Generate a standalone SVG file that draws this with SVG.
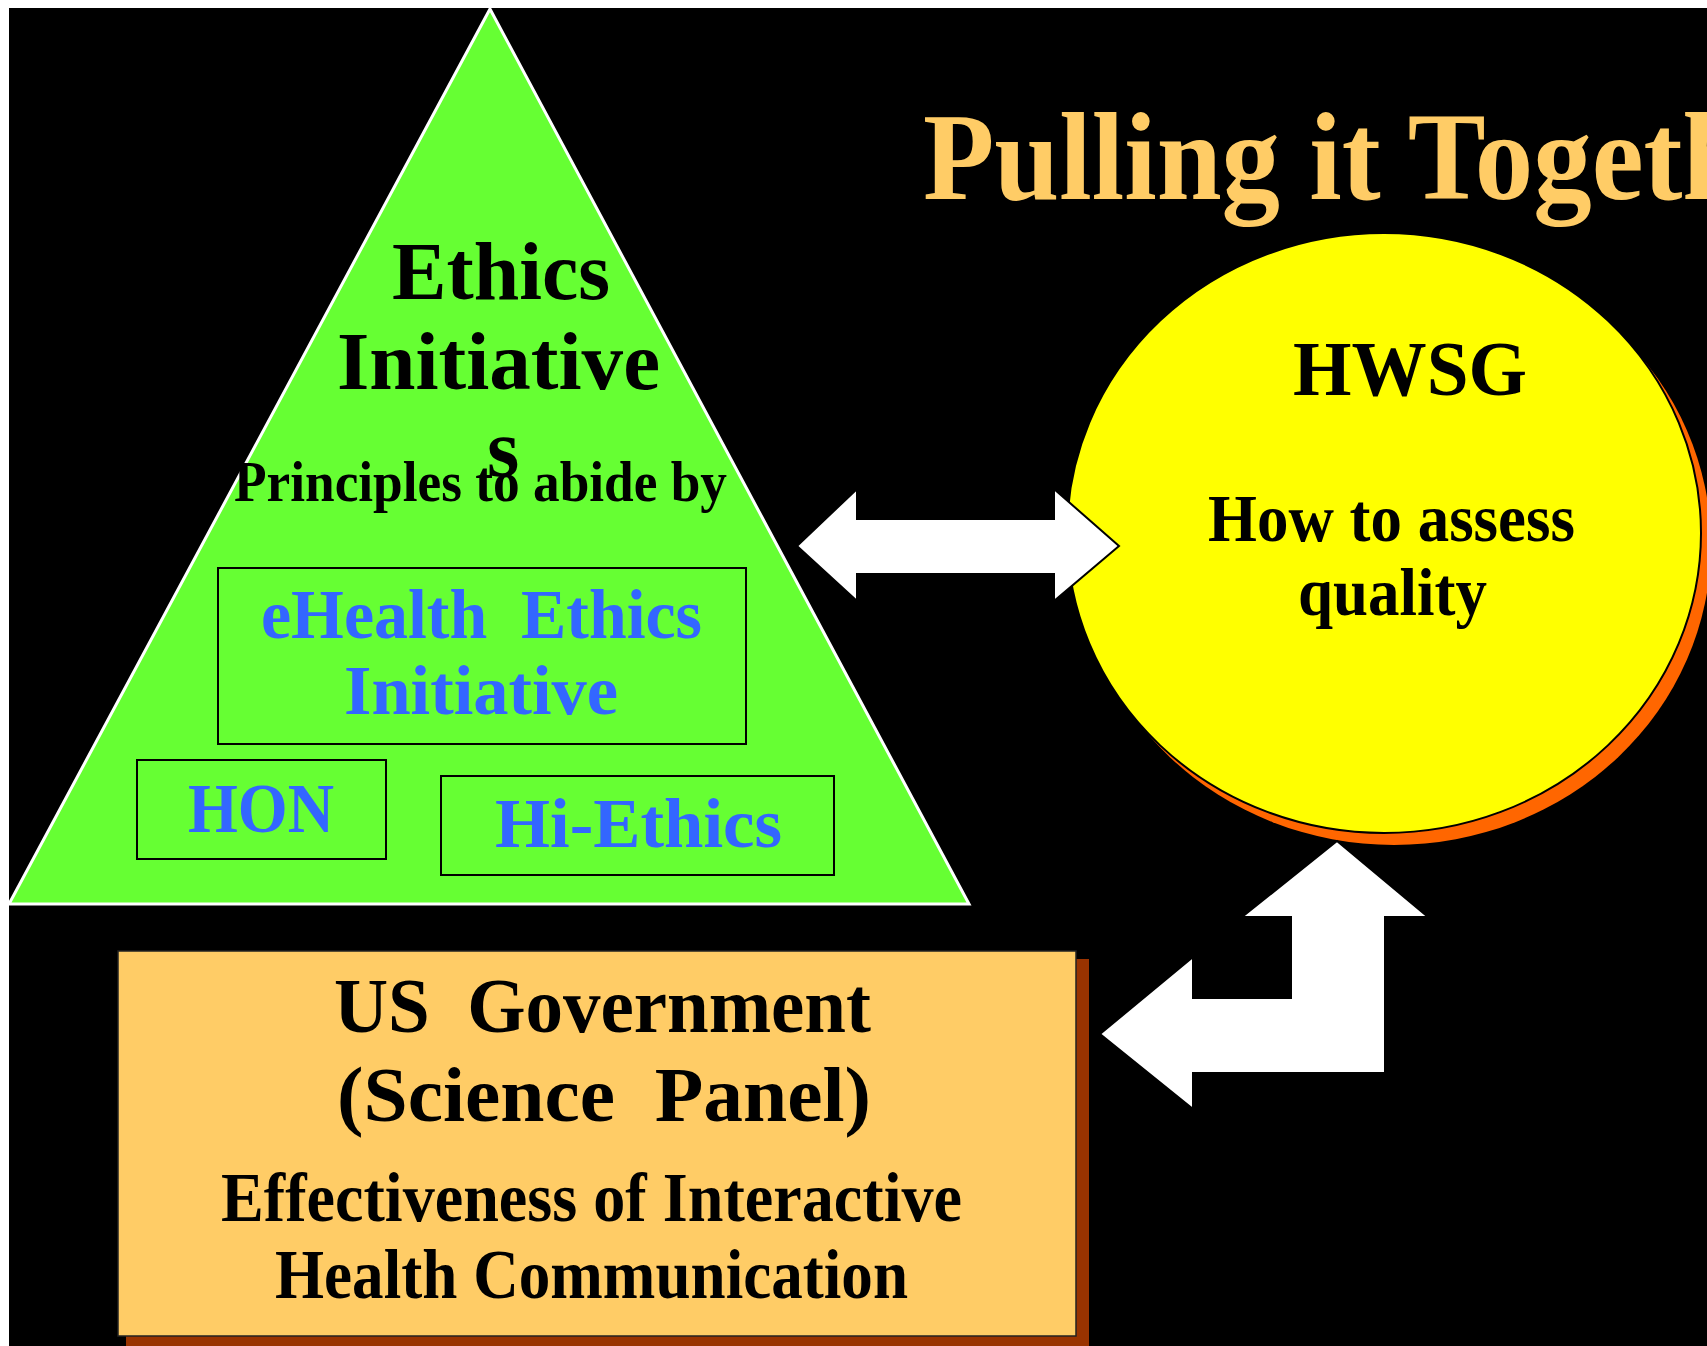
<svg xmlns="http://www.w3.org/2000/svg" width="1707" height="1346" viewBox="0 0 1707 1346">
<style>
  text { font-family: "Liberation Serif", "Times New Roman", serif; font-weight: bold; }
  .blk { fill: #000000; }
  .blue { fill: #3366FF; }
  .title { fill: #FFCC66; }
  .inner { fill: none; stroke: #000000; stroke-width: 2; }
  .arrow { fill: #FFFFFF; stroke: #000000; stroke-width: 2; stroke-linejoin: miter; }
</style>
<rect x="0" y="0" width="1707" height="1346" fill="#FFFFFF"/>
<rect x="9" y="8" width="1698" height="1338" fill="#000000"/>

<g id="title">
  <text class="title" x="923" y="199" font-size="124" textLength="928" lengthAdjust="spacingAndGlyphs">Pulling it Together</text>
</g>

<g id="ethics-initiatives">
  <polygon points="490,9 969,904 9,904" fill="#66FF33" stroke="#FFFFFF" stroke-width="3"/>
  <text class="blk" x="392" y="299" font-size="83" textLength="218" lengthAdjust="spacingAndGlyphs">Ethics</text>
  <text class="blk" x="337" y="389" font-size="83" textLength="323" lengthAdjust="spacingAndGlyphs">Initiative</text>
  <text class="blk" x="487" y="476" font-size="83">s</text>
  <text class="blk" x="234" y="501" font-size="58" textLength="493" lengthAdjust="spacingAndGlyphs">Principles to abide by</text>
</g>

<g id="ehealth-ethics-initiative">
  <rect class="inner" x="218" y="568" width="528" height="176"/>
  <text class="blue" x="261" y="638" font-size="70" textLength="441" lengthAdjust="spacingAndGlyphs" xml:space="preserve">eHealth  Ethics</text>
  <text class="blue" x="344" y="714" font-size="70" textLength="274" lengthAdjust="spacingAndGlyphs">Initiative</text>
</g>

<g id="hon">
  <rect class="inner" x="137" y="760" width="249" height="99"/>
  <text class="blue" x="188" y="832" font-size="70" textLength="146" lengthAdjust="spacingAndGlyphs">HON</text>
</g>

<g id="hi-ethics">
  <rect class="inner" x="441" y="776" width="393" height="99"/>
  <text class="blue" x="495" y="847" font-size="70" textLength="287" lengthAdjust="spacingAndGlyphs">Hi-Ethics</text>
</g>

<g id="hwsg">
  <ellipse cx="1394" cy="545" rx="317" ry="300" fill="#FF6600"/>
  <ellipse cx="1384" cy="533" rx="317" ry="300" fill="#FFFF00" stroke="#000000" stroke-width="2"/>
  <text class="blk" x="1293" y="395" font-size="78" textLength="234" lengthAdjust="spacingAndGlyphs">HWSG</text>
  <text class="blk" x="1208" y="541" font-size="68" textLength="367" lengthAdjust="spacingAndGlyphs">How to assess</text>
  <text class="blk" x="1298" y="615" font-size="68" textLength="189" lengthAdjust="spacingAndGlyphs">quality</text>
</g>

<g id="us-government">
  <rect x="126" y="959" width="963" height="400" fill="#993300"/>
  <rect x="118" y="951" width="958" height="385" fill="#FFCC66" stroke="#222222" stroke-width="1.5"/>
  <text class="blk" x="334" y="1032" font-size="78" textLength="537" lengthAdjust="spacingAndGlyphs" xml:space="preserve">US  Government</text>
  <text class="blk" x="337" y="1121" font-size="78" textLength="534" lengthAdjust="spacingAndGlyphs" xml:space="preserve">(Science  Panel)</text>
  <text class="blk" x="221" y="1221" font-size="70" textLength="741" lengthAdjust="spacingAndGlyphs">Effectiveness of Interactive</text>
  <text class="blk" x="275" y="1298" font-size="70" textLength="633" lengthAdjust="spacingAndGlyphs">Health Communication</text>
</g>

<g id="connectors">
  <polygon class="arrow" points="797,546 857,489 857,519 1054,519 1054,489 1119,546 1054,601 1054,574 857,574 857,601"/>
  <polygon class="arrow" points="1337,841 1428,917 1385,917 1385,1073 1193,1073 1193,1109 1100,1034 1193,957 1193,998 1291,998 1291,917 1242,917"/>
</g>
</svg>
